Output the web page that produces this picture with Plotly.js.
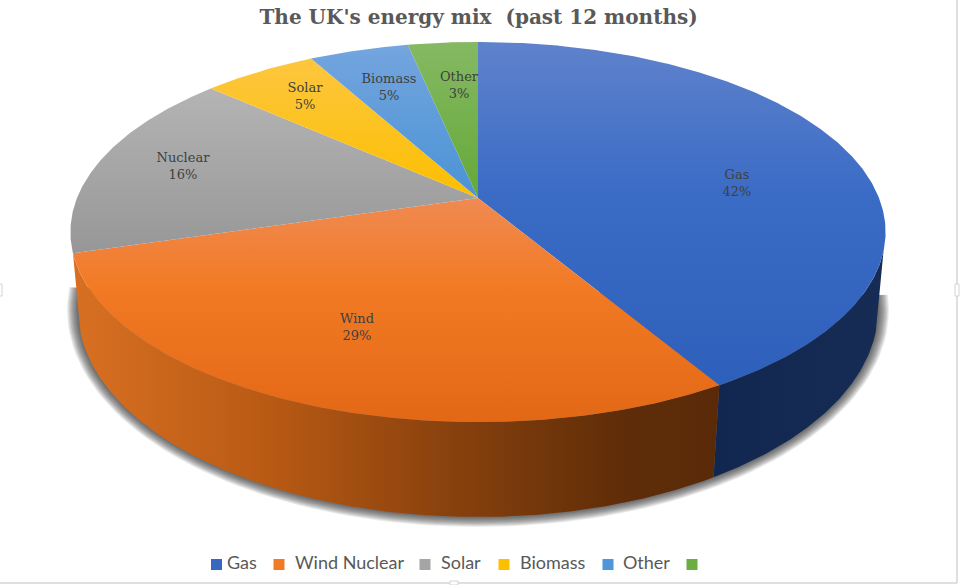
<!DOCTYPE html>
<html>
<head>
<meta charset="utf-8">
<script src="https://cdn.plot.ly/plotly-3.0.1.min.js"></script>
<style>html,body{margin:0;padding:0;background:#fff}#chart{width:960px;height:585px}</style>
</head>
<body>
<div id="chart"></div>
<script>
// shares, the labels are these rounded
const sources = ["Gas", "Wind", "Nuclear", "Solar", "Biomass", "Other"];
const shares = [41.5, 28.9, 16.2, 5.4, 4.7, 3.3];
const legendNames = ["Gas", "Wind Nuclear", "Solar", "Biomass", "Other"];

const faceColors = [
    [[0, "#5f82cc"], [0.45, "#3a6bc5"], [1, "#2e60bb"]],
    [[0, "#f08a52"], [0.4, "#f27a24"], [1, "#e36816"]],
    [[0, "#b4b4b4"], [1, "#979797"]],
    [[0, "#fdc63f"], [1, "#fcbf00"]],
    [[0, "#74a5de"], [1, "#4a93d6"]],
    [[0, "#85b963"], [1, "#65a838"]]
];
const sideColors = [
    [[0, "#12274f"], [1, "#162c55"]],
    [[0, "#d87022"], [0.3, "#b95a14"], [0.6, "#86400d"], [0.85, "#5f2d08"], [1, "#5a2a08"]]
];

// where things sit on the picture
const labelX = [737, 357, 183, 305, 389, 459];
const labelY = [184, 328, 167, 97.5, 88.5, 86];
const swatchX = [216.5, 279, 425, 504, 608, 692];
const legendX = [227, 295, 441, 520, 623];
const LEGEND_Y = 564.5;

// tilted pie, perspective pushes the centre up from the middle of the ellipse
const CX = 478, CY0 = 198, PK = 0.179, PA = 401, PB = 184;
const TOP = {rx: 408, cy: 231, ry: 190};
const BOT = {rx: 400, cy: 310, ry: 207};

function project(deg){
    const r = deg*Math.PI/180;
    const u = Math.sin(r), v = Math.cos(r), d = 1+PK*v;
    return [CX+PA*u/d, CY0-PB*v/d];
}

function dropToBottom(p){
    const t = Math.atan2((p[1]-TOP.cy)/TOP.ry, (p[0]-CX)/TOP.rx);
    return [CX+BOT.rx*Math.cos(t), BOT.cy+BOT.ry*Math.sin(t)];
}

function arc(from, to){
    const pts = [];
    const n = Math.max(2, Math.ceil((to-from)*2));
    for(let i=0;i<=n;i++)
        pts.push(project(from+(to-from)*i/n));
    return pts;
}

function poly(pts, extra){
    return Object.assign({
        x: pts.map((p)=>p[0]),
        y: pts.map((p)=>p[1]),
        type: "scatter",
        mode: "lines",
        fill: "toself",
        line: {width: 0},
        hoverinfo: "skip",
        showlegend: false
    }, extra);
}

const traces = [];

// soft shadow under the rim
for(let g=11;g>=1;g--){
    const pts = [];
    for(let a=-4;a<=186;a+=2){
        const r = a*Math.PI/180;
        pts.push([CX+(BOT.rx+g)*Math.cos(r), BOT.cy+(BOT.ry+g*0.9)*Math.sin(r)]);
    }
    traces.push(poly(pts, {fillcolor: "rgba(40,40,40,0.085)"}));
}

let edges = [0];
shares.forEach((s)=>edges.push(edges[edges.length-1]+s*3.6));

// rim, only the slices facing the viewer
sideColors.forEach((colors, i)=>{
    const upper = arc(edges[i], edges[i+1]).filter((p)=>p[1]>=250);
    const lower = upper.map(dropToBottom).reverse();
    const pts = upper.concat(lower);
    const xs = pts.map((p)=>p[0]);
    traces.push(poly(pts, {
        fillgradient: {
            type: "horizontal",
            colorscale: colors,
            start: Math.min.apply(null, xs),
            stop: Math.max.apply(null, xs)
        }
    }));
});

// top face
sources.forEach((name, i)=>{
    const pts = [[CX, CY0]].concat(arc(edges[i], edges[i+1]));
    pts.push([CX, CY0]);
    const ys = pts.map((p)=>p[1]);
    traces.push(poly(pts, {
        fillgradient: {
            type: "vertical",
            colorscale: faceColors[i],
            start: Math.min.apply(null, ys),
            stop: Math.max.apply(null, ys)
        }
    }));
});

traces.push({
    x: labelX,
    y: labelY,
    text: sources.map((name, i)=>name+"<br>"+Math.round(shares[i])+"%"),
    type: "scatter",
    mode: "text",
    textposition: "middle center",
    textfont: {family: "DejaVu Serif", size: 13, color: "#404040"},
    hoverinfo: "skip",
    showlegend: false
});

traces.push({
    x: swatchX,
    y: swatchX.map(()=>LEGEND_Y),
    type: "scatter",
    mode: "markers",
    marker: {
        symbol: "square",
        size: 11,
        color: ["#3767c1", "#f27a24", "#a5a5a5", "#fcc000", "#4f97da", "#6cad42"]
    },
    hoverinfo: "skip",
    showlegend: false
});

traces.push({
    x: legendX,
    y: legendX.map(()=>LEGEND_Y),
    text: legendNames,
    type: "scatter",
    mode: "text",
    textposition: "middle right",
    textfont: {family: "Lato", size: 18, color: "#595959"},
    hoverinfo: "skip",
    showlegend: false
});

const hidden = {visible: false, fixedrange: true};

const frameColor = "#d4d4d4";
const layout = {
    width: 960,
    height: 585,
    margin: {l: 0, r: 0, t: 0, b: 0},
    paper_bgcolor: "#ffffff",
    plot_bgcolor: "#ffffff",
    title: {
        text: "The UK's energy mix  (past 12 months)",
        font: {family: "DejaVu Serif", size: 20, weight: 700, color: "#595959"},
        x: 0.4985,
        xanchor: "center",
        y: 0.971,
        yanchor: "middle"
    },
    xaxis: Object.assign({range: [0, 960]}, hidden),
    yaxis: Object.assign({range: [585, 0]}, hidden),
    shapes: [
        {type: "line", x0: 957, x1: 957, y0: 0, y1: 583, line: {color: frameColor, width: 1.5}},
        {type: "line", x0: 0, x1: 957, y0: 583, y1: 583, line: {color: frameColor, width: 1.5}},
        {type: "rect", x0: -2, x1: 2, y0: 284, y1: 296, fillcolor: "#fff", line: {color: frameColor, width: 1}},
        {type: "rect", x0: 955, x1: 959, y0: 284, y1: 296, fillcolor: "#fff", line: {color: frameColor, width: 1}},
        {type: "rect", x0: 450, x1: 458, y0: 581, y1: 585, fillcolor: "#fff", line: {color: frameColor, width: 1}}
    ]
};

Plotly.newPlot("chart", traces, layout, {displayModeBar: false});
</script>
</body>
</html>
